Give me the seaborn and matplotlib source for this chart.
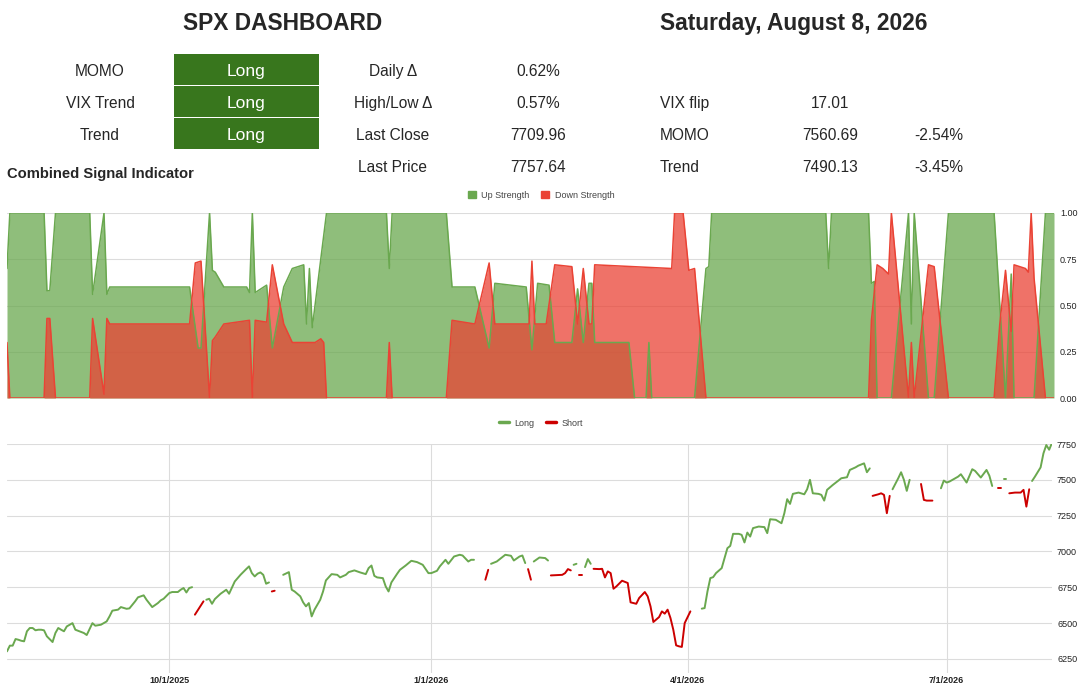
import pandas as pd
import matplotlib.pyplot as plt
from matplotlib.lines import Line2D
from matplotlib.patches import Patch, Rectangle
import seaborn as sns

# dashboard table
signal_names = ['MOMO', 'VIX Trend', 'Trend']
signal_states = ['Long', 'Long', 'Long']
stat_names = ['Daily Δ', 'High/Low Δ', 'Last Close', 'Last Price']
stat_values = ['0.62%', '0.57%', '7709.96', '7757.64']
level_names = ['VIX flip', 'MOMO', 'Trend']
level_values = ['17.01', '7560.69', '7490.13']
level_changes = ['', '-2.54%', '-3.45%']

# combined signal indicator
up_dates = ['2025-08-05', '2025-08-06', '2025-08-18', '2025-08-19', '2025-08-20', '2025-08-22', '2025-09-03',
            '2025-09-04', '2025-09-08', '2025-09-09', '2025-09-10', '2025-10-08', '2025-10-11', '2025-10-12',
            '2025-10-15', '2025-10-16', '2025-10-17', '2025-10-20', '2025-10-28', '2025-10-29', '2025-10-30',
            '2025-10-31', '2025-11-04', '2025-11-06', '2025-11-10', '2025-11-13', '2025-11-17', '2025-11-18',
            '2025-11-19', '2025-11-20', '2025-11-25', '2025-12-16', '2025-12-17', '2025-12-18', '2026-01-06',
            '2026-01-08', '2026-01-16', '2026-01-21', '2026-01-23', '2026-02-03', '2026-02-05', '2026-02-07',
            '2026-02-11', '2026-02-13', '2026-02-19', '2026-02-21', '2026-02-23', '2026-02-25', '2026-02-26',
            '2026-02-27', '2026-03-11', '2026-03-13', '2026-03-17', '2026-03-18', '2026-03-19', '2026-04-03',
            '2026-04-07', '2026-04-08', '2026-04-09', '2026-05-19', '2026-05-20', '2026-05-21', '2026-06-03',
            '2026-06-04', '2026-06-05', '2026-06-06', '2026-06-11', '2026-06-17', '2026-06-18', '2026-06-19',
            '2026-06-24', '2026-06-26', '2026-07-01', '2026-07-17', '2026-07-21', '2026-07-23', '2026-07-24',
            '2026-07-31', '2026-08-04', '2026-08-07']
up_strength = [0.70, 1.00, 1.00, 0.58, 0.58, 1.00, 1.00,
               0.56, 1.00, 0.56, 0.60, 0.60, 0.27, 0.27,
               1.00, 0.69, 0.68, 0.60, 0.60, 0.57, 1.00,
               0.57, 0.61, 0.27, 0.60, 0.70, 0.72, 0.40,
               0.70, 0.38, 1.00, 1.00, 0.70, 1.00, 1.00,
               0.60, 0.60, 0.27, 0.62, 0.60, 0.26, 0.62,
               0.61, 0.30, 0.30, 0.59, 0.30, 0.62, 0.62,
               0.30, 0.30, 0.00, 0.00, 0.30, 0.00, 0.00,
               0.70, 0.71, 1.00, 1.00, 0.70, 1.00, 1.00,
               0.62, 0.63, 0.00, 0.00, 1.00, 0.40, 1.00,
               0.00, 0.00, 1.00, 1.00, 0.00, 0.67, 0.00,
               0.00, 1.00, 1.00]
down_dates = ['2025-08-05', '2025-08-06', '2025-08-18', '2025-08-19', '2025-08-20', '2025-08-22', '2025-09-03',
              '2025-09-04', '2025-09-08', '2025-09-09', '2025-09-10', '2025-10-08', '2025-10-10', '2025-10-12',
              '2025-10-15', '2025-10-16', '2025-10-17', '2025-10-20', '2025-10-29', '2025-10-30', '2025-10-31',
              '2025-11-04', '2025-11-06', '2025-11-10', '2025-11-13', '2025-11-21', '2025-11-23', '2025-11-24',
              '2025-11-25', '2025-12-16', '2025-12-17', '2025-12-18', '2026-01-06', '2026-01-08', '2026-01-16',
              '2026-01-21', '2026-01-23', '2026-02-04', '2026-02-05', '2026-02-06', '2026-02-10', '2026-02-13',
              '2026-02-19', '2026-02-21', '2026-02-23', '2026-02-25', '2026-02-26', '2026-02-27', '2026-03-26',
              '2026-03-27', '2026-03-30', '2026-04-01', '2026-04-03', '2026-04-07', '2026-06-03', '2026-06-04',
              '2026-06-06', '2026-06-08', '2026-06-10', '2026-06-11', '2026-06-17', '2026-06-18', '2026-06-19',
              '2026-06-24', '2026-06-26', '2026-07-01', '2026-07-17', '2026-07-19', '2026-07-21', '2026-07-23',
              '2026-07-24', '2026-07-28', '2026-07-29', '2026-07-30', '2026-07-31', '2026-08-04', '2026-08-07']
down_strength = [0.30, 0.00, 0.00, 0.43, 0.43, 0.00, 0.00,
                 0.43, 0.02, 0.43, 0.40, 0.40, 0.73, 0.74,
                 0.00, 0.31, 0.33, 0.40, 0.42, 0.00, 0.42,
                 0.41, 0.72, 0.40, 0.30, 0.30, 0.32, 0.30,
                 0.00, 0.00, 0.30, 0.00, 0.00, 0.42, 0.40,
                 0.73, 0.40, 0.40, 0.74, 0.40, 0.40, 0.72,
                 0.71, 0.40, 0.70, 0.40, 0.40, 0.72, 0.70,
                 1.00, 1.00, 0.69, 0.70, 0.00, 0.00, 0.42,
                 0.72, 0.70, 0.67, 1.00, 0.00, 0.30, 0.00,
                 0.72, 0.71, 0.00, 0.00, 0.40, 0.69, 0.36,
                 0.72, 0.70, 0.68, 1.00, 0.65, 0.00, 0.00]

# SPX price
price_dates = [
    '2025-08-05', '2025-08-06', '2025-08-07', '2025-08-08', '2025-08-09', '2025-08-10', '2025-08-11', '2025-08-12',
    '2025-08-13', '2025-08-14', '2025-08-15', '2025-08-16', '2025-08-17', '2025-08-18', '2025-08-19', '2025-08-21',
    '2025-08-22', '2025-08-23', '2025-08-24', '2025-08-25', '2025-08-26', '2025-08-28', '2025-08-29', '2025-09-01',
    '2025-09-02', '2025-09-04', '2025-09-05', '2025-09-07', '2025-09-09', '2025-09-10', '2025-09-11', '2025-09-13',
    '2025-09-14', '2025-09-16', '2025-09-17', '2025-09-19', '2025-09-20', '2025-09-22', '2025-09-23', '2025-09-25',
    '2025-09-27', '2025-09-28', '2025-09-29', '2025-10-01', '2025-10-02', '2025-10-04', '2025-10-05', '2025-10-06',
    '2025-10-07', '2025-10-08', '2025-10-09', '2025-10-10', '2025-10-13', '2025-10-14', '2025-10-15', '2025-10-16',
    '2025-10-17', '2025-10-19', '2025-10-21', '2025-10-22', '2025-10-24', '2025-10-26', '2025-10-28', '2025-10-29',
    '2025-10-30', '2025-10-31', '2025-11-01', '2025-11-02', '2025-11-03', '2025-11-04', '2025-11-05', '2025-11-06',
    '2025-11-07', '2025-11-10', '2025-11-12', '2025-11-13', '2025-11-14', '2025-11-16', '2025-11-17', '2025-11-18',
    '2025-11-19', '2025-11-20', '2025-11-21', '2025-11-23', '2025-11-24', '2025-11-25', '2025-11-27', '2025-11-29',
    '2025-11-30', '2025-12-02', '2025-12-03', '2025-12-05', '2025-12-07', '2025-12-09', '2025-12-10', '2025-12-11',
    '2025-12-12', '2025-12-13', '2025-12-15', '2025-12-16', '2025-12-17', '2025-12-18', '2025-12-20', '2025-12-21',
    '2025-12-23', '2025-12-25', '2025-12-27', '2025-12-29', '2025-12-31', '2026-01-01', '2026-01-03', '2026-01-04',
    '2026-01-06', '2026-01-07', '2026-01-09', '2026-01-11', '2026-01-12', '2026-01-14', '2026-01-15', '2026-01-16',
    '2026-01-20', '2026-01-21', '2026-01-22', '2026-01-24', '2026-01-27', '2026-01-29', '2026-01-30', '2026-02-01',
    '2026-02-02', '2026-02-03', '2026-02-04', '2026-02-05', '2026-02-06', '2026-02-08', '2026-02-10', '2026-02-11',
    '2026-02-12', '2026-02-16', '2026-02-17', '2026-02-18', '2026-02-19', '2026-02-20', '2026-02-21', '2026-02-22',
    '2026-02-23', '2026-02-24', '2026-02-25', '2026-02-26', '2026-02-27', '2026-03-01', '2026-03-02', '2026-03-03',
    '2026-03-04', '2026-03-05', '2026-03-06', '2026-03-07', '2026-03-09', '2026-03-11', '2026-03-12', '2026-03-14',
    '2026-03-15', '2026-03-17', '2026-03-18', '2026-03-19', '2026-03-20', '2026-03-22', '2026-03-23', '2026-03-24',
    '2026-03-25', '2026-03-26', '2026-03-27', '2026-03-28', '2026-03-29', '2026-03-30', '2026-03-31', '2026-04-02',
    '2026-04-06', '2026-04-07', '2026-04-08', '2026-04-09', '2026-04-10', '2026-04-11', '2026-04-13', '2026-04-14',
    '2026-04-15', '2026-04-16', '2026-04-17', '2026-04-19', '2026-04-20', '2026-04-21', '2026-04-22', '2026-04-23',
    '2026-04-24', '2026-04-26', '2026-04-28', '2026-04-29', '2026-04-30', '2026-05-02', '2026-05-04', '2026-05-05',
    '2026-05-06', '2026-05-07', '2026-05-08', '2026-05-10', '2026-05-12', '2026-05-13', '2026-05-14', '2026-05-15',
    '2026-05-17', '2026-05-18', '2026-05-19', '2026-05-20', '2026-05-22', '2026-05-24', '2026-05-25', '2026-05-27',
    '2026-05-28', '2026-05-30', '2026-05-31', '2026-06-02', '2026-06-03', '2026-06-04', '2026-06-05', '2026-06-07',
    '2026-06-08', '2026-06-09', '2026-06-10', '2026-06-11', '2026-06-12', '2026-06-14', '2026-06-15', '2026-06-16',
    '2026-06-17', '2026-06-18', '2026-06-22', '2026-06-23', '2026-06-24', '2026-06-26', '2026-06-29', '2026-06-30',
    '2026-07-01', '2026-07-02', '2026-07-05', '2026-07-06', '2026-07-08', '2026-07-10', '2026-07-11', '2026-07-13',
    '2026-07-15', '2026-07-16', '2026-07-17', '2026-07-19', '2026-07-20', '2026-07-21', '2026-07-22', '2026-07-23',
    '2026-07-25', '2026-07-27', '2026-07-28', '2026-07-29', '2026-07-30', '2026-07-31', '2026-08-01', '2026-08-03',
    '2026-08-04', '2026-08-05', '2026-08-06', '2026-08-07']
price_values = [
    6303, 6343, 6343, 6389, 6384, 6377, 6373, 6443,
    6466, 6466, 6450, 6454, 6454, 6450, 6408, 6368,
    6431, 6466, 6454, 6443, 6477, 6500, 6454, 6431,
    6417, 6500, 6482, 6489, 6512, 6547, 6587, 6594,
    6612, 6600, 6603, 6652, 6680, 6694, 6663, 6612,
    6640, 6659, 6670, 6710, 6717, 6717, 6733, 6745,
    6714, 6745, 6751, 6559, 6652, 6663, 6670, 6635,
    6668, 6705, 6733, 6705, 6791, 6837, 6877, 6896,
    6849, 6826, 6845, 6854, 6837, 6775, 6784, 6721,
    6726, 6837, 6856, 6733, 6721, 6687, 6645, 6617,
    6640, 6547, 6594, 6663, 6721, 6798, 6842, 6837,
    6819, 6837, 6856, 6868, 6854, 6842, 6884, 6902,
    6830, 6819, 6814, 6756, 6721, 6784, 6844, 6872,
    6902, 6935, 6926, 6907, 6849, 6849, 6865, 6896,
    6942, 6914, 6965, 6977, 6972, 6930, 6942, 6942,
    6803, 6872, 6914, 6930, 6977, 6970, 6937, 6965,
    6972, 6919, 6877, 6803, 6930, 6958, 6954, 6937,
    6833, 6837, 6849, 6877, 6868, 6907, 6914, 6837,
    6837, 6891, 6947, 6914, 6879, 6877, 6879, 6819,
    6861, 6849, 6740, 6756, 6796, 6780, 6645, 6635,
    6675, 6717, 6687, 6617, 6508, 6542, 6582, 6566,
    6594, 6536, 6454, 6345, 6338, 6334, 6500, 6582,
    6601, 6605, 6721, 6814, 6821, 6849, 6884, 6954,
    7023, 7039, 7123, 7123, 7116, 7063, 7132, 7104,
    7163, 7174, 7170, 7128, 7225, 7221, 7197, 7267,
    7365, 7332, 7402, 7411, 7399, 7434, 7500, 7406,
    7402, 7395, 7355, 7430, 7464, 7495, 7511, 7518,
    7569, 7587, 7599, 7615, 7553, 7580, 7388, 7399,
    7406, 7395, 7267, 7388, 7434, 7511, 7553, 7500,
    7423, 7500, 7471, 7360, 7355, 7355, 7441, 7495,
    7481, 7488, 7522, 7539, 7481, 7574, 7562, 7516,
    7569, 7529, 7457, 7441, 7441, 7504, 7504, 7406,
    7411, 7411, 7430, 7313, 7434, 7492, 7522, 7587,
    7685, 7743, 7710, 7758]
short_start = ['2025-10-10', '2025-11-06', '2026-01-20', '2026-02-04', '2026-02-12', '2026-02-22',
               '2026-02-27', '2026-06-05', '2026-06-22', '2026-07-19', '2026-07-23']
short_end = ['2025-10-13', '2025-11-07', '2026-01-21', '2026-02-05', '2026-02-19', '2026-02-23',
             '2026-04-02', '2026-06-11', '2026-06-26', '2026-07-20', '2026-07-30']

quarter_ticks = ['2025-10-01', '2026-01-01', '2026-04-01', '2026-07-01']
quarter_labels = ['10/1/2025', '1/1/2026', '4/1/2026', '7/1/2026']
price_ticks = [6250, 6500, 6750, 7000, 7250, 7500, 7750]
strength_ticks = [0, 0.25, 0.5, 0.75, 1.0]

# build frames
up = pd.DataFrame({'date': pd.to_datetime(up_dates), 'value': up_strength})
down = pd.DataFrame({'date': pd.to_datetime(down_dates), 'value': down_strength})
price = pd.DataFrame({'date': pd.to_datetime(price_dates), 'price': price_values})
price['side'] = 'Long'
for s, e in zip(short_start, short_end):
    price.loc[(price['date'] >= s) & (price['date'] <= e), 'side'] = 'Short'
price['segment'] = (price['side'] != price['side'].shift()).cumsum()

sns.set_theme(style='white')
plt.rcParams['font.family'] = ['Liberation Sans', 'DejaVu Sans']

GREEN = '#6aa84f'
RED = '#ea4335'
DARK_RED = '#cc0000'
CELL = '#38761d'
GRID = '#dcdcdc'
W, H = 1084, 691
x_start, x_end = pd.Timestamp('2025-08-05'), pd.Timestamp('2026-08-07')

fig = plt.figure(figsize=(W / 100, H / 100), dpi=100)


def box(left, top, right, bottom):
    return [left / W, 1 - bottom / H, (right - left) / W, (bottom - top) / H]


# header / table drawn in pixel space
board = fig.add_axes([0, 0, 1, 1])
board.set_xlim(0, W)
board.set_ylim(H, 0)
board.axis('off')

board.text(283, 30, 'SPX DASHBOARD', ha='center', va='baseline', fontsize=16.4, fontweight='bold')
board.text(794, 30, 'Saturday, August 8, 2026', ha='center', va='baseline', fontsize=16.4, fontweight='bold')

rows = [76, 108, 140, 172]
for i, (name, state) in enumerate(zip(signal_names, signal_states)):
    board.add_patch(Rectangle((174, rows[i] - 22), 145, 31, color=CELL, lw=0))
    board.text(100, rows[i], name, ha='center', va='baseline', fontsize=11.2)
    board.text(246.5, rows[i], state, ha='center', va='baseline', fontsize=12.5, color='white')
for i, (name, val) in enumerate(zip(stat_names, stat_values)):
    board.text(393, rows[i], name, ha='center', va='baseline', fontsize=11.2)
    board.text(538, rows[i], val, ha='center', va='baseline', fontsize=11.2)
for i, (name, val, chg) in enumerate(zip(level_names, level_values, level_changes)):
    board.text(660, rows[i + 1], name, ha='left', va='baseline', fontsize=11.2)
    board.text(830, rows[i + 1], val, ha='center', va='baseline', fontsize=11.2)
    board.text(939, rows[i + 1], chg, ha='center', va='baseline', fontsize=11.2)

board.text(7, 178, 'Combined Signal Indicator', ha='left', va='baseline', fontsize=10.6, fontweight='bold')

# combined signal area chart
ax1 = fig.add_axes(box(7, 213, 1054, 398))
ax1.fill_between(up['date'], up['value'], color=GREEN, alpha=0.75, lw=0)
sns.lineplot(data=up, x='date', y='value', ax=ax1, color=GREEN, linewidth=1.1, estimator=None)
ax1.fill_between(down['date'], down['value'], color=RED, alpha=0.75, lw=0)
sns.lineplot(data=down, x='date', y='value', ax=ax1, color=RED, linewidth=1.1, estimator=None)
ax1.set_xlim(x_start, x_end)
ax1.set_ylim(0, 1)
ax1.set_yticks(strength_ticks)
ax1.set_yticklabels([f'{t:.2f}' for t in strength_ticks])
ax1.yaxis.tick_right()
ax1.tick_params(axis='y', length=0, pad=4.3, labelsize=6.5, labelcolor='#222222')
ax1.tick_params(axis='x', length=0, labelbottom=False)
ax1.set_xlabel('')
ax1.set_ylabel('')
ax1.grid(axis='y', color=GRID, lw=0.8)
ax1.set_axisbelow(True)
sns.despine(ax=ax1, left=True, bottom=True)
ax1.legend([Patch(color=GREEN), Patch(color=RED)], ['Up Strength', 'Down Strength'],
           loc='center', bbox_to_anchor=(541 / W, 1 - 195 / H), bbox_transform=fig.transFigure,
           ncol=2, frameon=False, fontsize=6.5, handlelength=0.9, handleheight=0.9,
           handletextpad=0.6, columnspacing=1.3, borderpad=0, labelcolor='#444444')

# price chart, long / short segments
ax2 = fig.add_axes(box(7, 444, 1052, 673))
sns.lineplot(data=price, x='date', y='price', hue='side', units='segment', estimator=None,
             palette={'Long': GREEN, 'Short': DARK_RED}, linewidth=1.4, legend=False, ax=ax2)
ax2.set_xlim(x_start, x_end)
ax2.set_ylim(6152, 7750)
ax2.set_yticks(price_ticks)
ax2.set_yticklabels([str(t) for t in price_ticks])
ax2.set_xticks(pd.to_datetime(quarter_ticks))
ax2.set_xticklabels(quarter_labels)
ax2.yaxis.tick_right()
ax2.tick_params(axis='y', length=0, pad=3.6, labelsize=6.5, labelcolor='#222222')
ax2.tick_params(axis='x', length=0, pad=2.5, labelsize=6.5, labelcolor='#222222')
for lab in ax2.get_xticklabels():
    lab.set_fontweight('bold')
ax2.set_xlabel('')
ax2.set_ylabel('')
ax2.grid(True, color=GRID, lw=0.8)
ax2.set_axisbelow(True)
sns.despine(ax=ax2, left=True, bottom=True)
ax2.legend([Line2D([], [], color=GREEN, lw=2.5), Line2D([], [], color=DARK_RED, lw=2.5)], ['Long', 'Short'],
           loc='center', bbox_to_anchor=(541 / W, 1 - 423 / H), bbox_transform=fig.transFigure,
           ncol=2, frameon=False, fontsize=6.5, handlelength=1.1, handletextpad=0.6,
           columnspacing=1.3, borderpad=0, labelcolor='#444444')

fig.savefig('out.png', dpi=100)
